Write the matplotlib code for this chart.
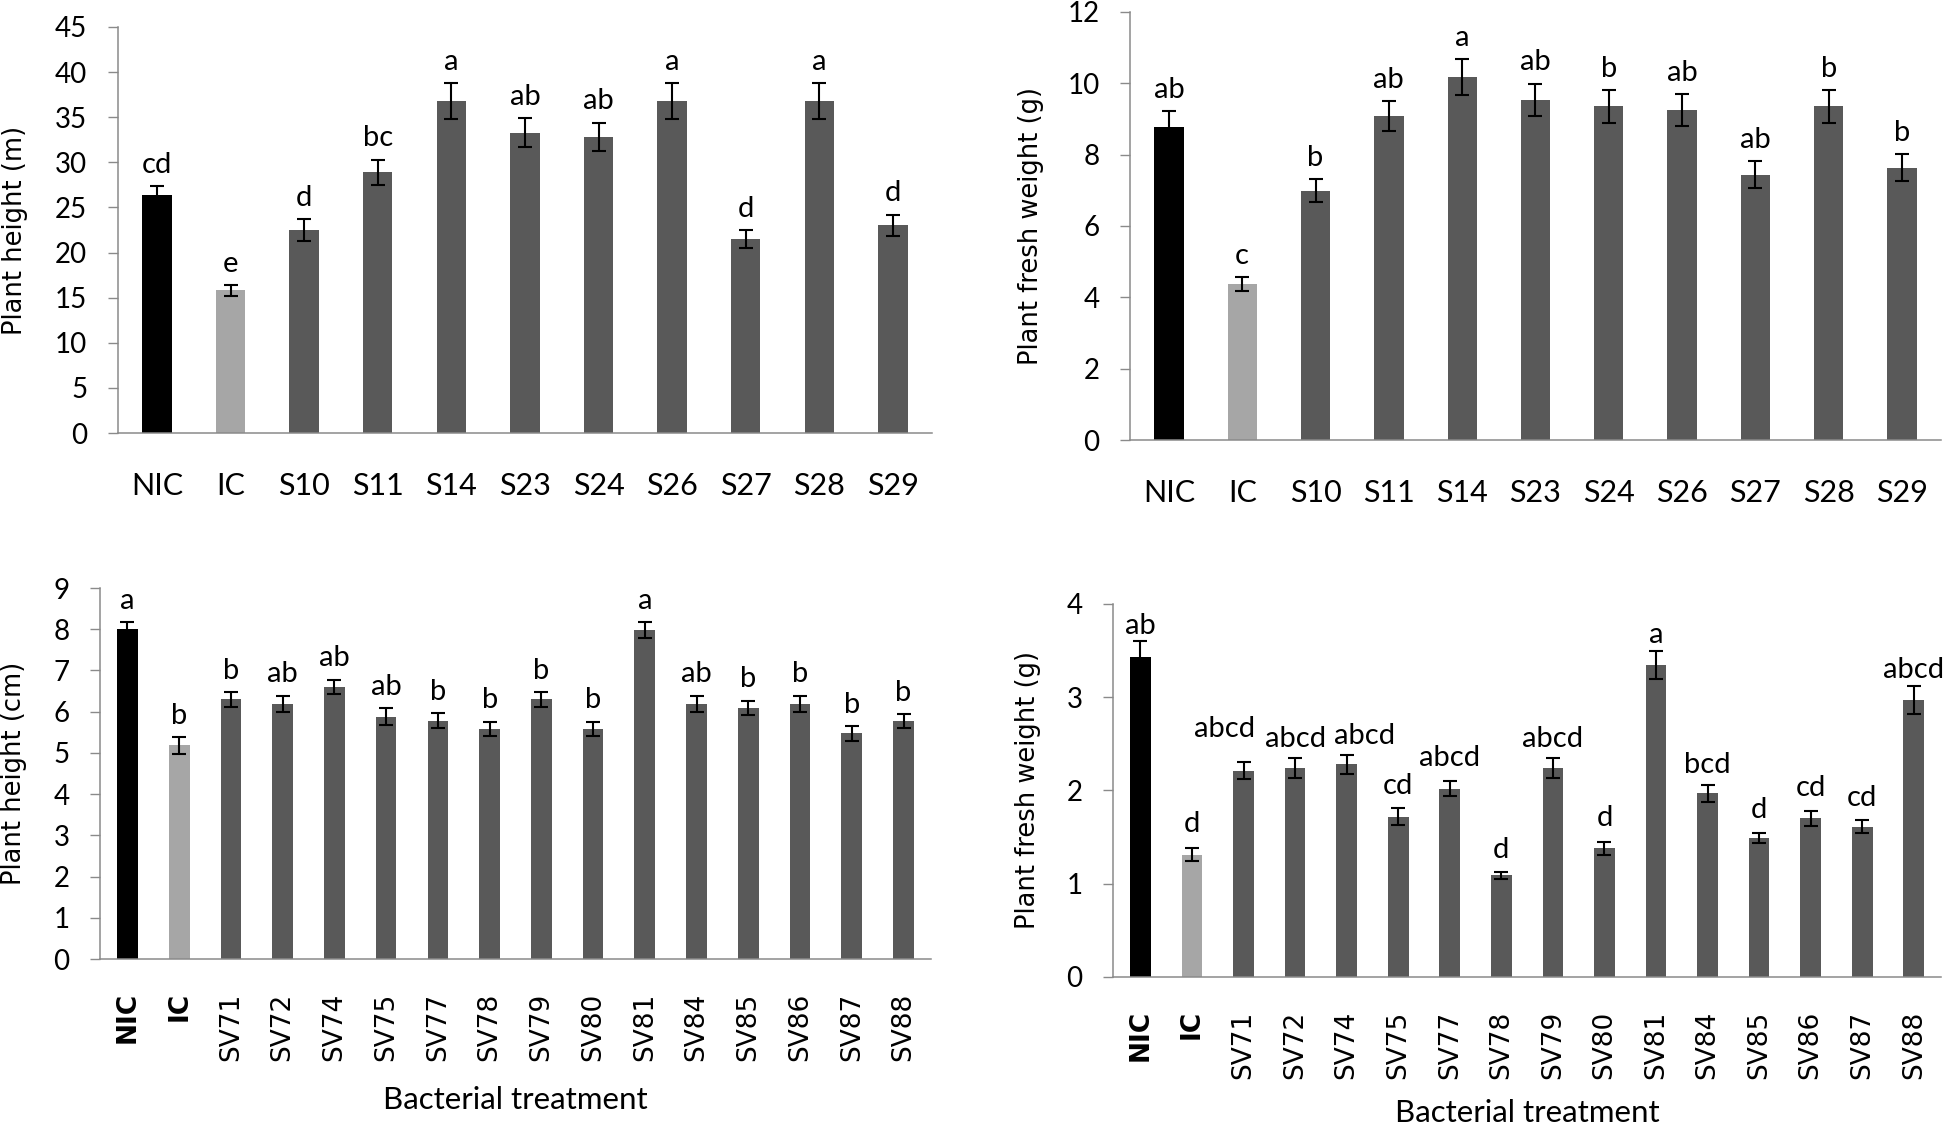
import matplotlib
matplotlib.use("Agg")
import matplotlib.pyplot as plt

plt.rcParams['font.family'] = ['Lato', 'DejaVu Sans']

# ---- data: top panels (S isolates) ----
top_labels = ['NIC', 'IC', 'S10', 'S11', 'S14', 'S23', 'S24', 'S26', 'S27', 'S28', 'S29']
top_height = [26.4, 15.8, 22.5, 28.9, 36.8, 33.3, 32.8, 36.8, 21.5, 36.8, 23.0]
top_height_err = [1.0, 0.6, 1.2, 1.4, 1.95, 1.6, 1.6, 1.95, 1.0, 1.95, 1.2]
top_height_letters = ['cd', 'e', 'd', 'bc', 'a', 'ab', 'ab', 'a', 'd', 'a', 'd']

top_weight = [8.78, 4.37, 6.99, 9.08, 10.18, 9.54, 9.35, 9.25, 7.44, 9.35, 7.63]
top_weight_err = [0.45, 0.2, 0.33, 0.43, 0.5, 0.45, 0.47, 0.45, 0.37, 0.47, 0.38]
top_weight_letters = ['ab', 'c', 'b', 'ab', 'a', 'ab', 'b', 'ab', 'ab', 'b', 'b']

# ---- data: bottom panels (SV isolates) ----
bottom_labels = ['NIC', 'IC', 'SV71', 'SV72', 'SV74', 'SV75', 'SV77', 'SV78', 'SV79',
                 'SV80', 'SV81', 'SV84', 'SV85', 'SV86', 'SV87', 'SV88']
bottom_height = [8.0, 5.18, 6.3, 6.19, 6.6, 5.88, 5.78, 5.58, 6.3, 5.58, 7.98, 6.19,
                 6.09, 6.19, 5.48, 5.78]
bottom_height_err = [0.18, 0.2, 0.18, 0.2, 0.18, 0.2, 0.18, 0.18, 0.18, 0.18, 0.2, 0.2,
                     0.18, 0.2, 0.18, 0.17]
bottom_height_letters = ['a', 'b', 'b', 'ab', 'ab', 'ab', 'b', 'b', 'b', 'b', 'a', 'ab',
                         'b', 'b', 'b', 'b']

bottom_weight = [3.43, 1.31, 2.21, 2.24, 2.28, 1.72, 2.02, 1.09, 2.24, 1.38, 3.35, 1.97,
                 1.49, 1.70, 1.61, 2.97]
bottom_weight_err = [0.17, 0.07, 0.09, 0.11, 0.1, 0.09, 0.08, 0.04, 0.11, 0.07, 0.15,
                     0.09, 0.05, 0.08, 0.07, 0.15]
bottom_weight_letters = ['ab', 'd', 'abcd', 'abcd', 'abcd', 'cd', 'abcd', 'd', 'abcd', 'd',
                         'a', 'bcd', 'd', 'cd', 'cd', 'abcd']
# hand placement of the letters in that panel (dx, dy in points)
bottom_weight_nudge = [(0, -4), (0, 2), (-14, 9), (0, -2), (13, -1.5), (0, 1), (0, 1.5),
                       (0, 0), (0, -1.5), (0, 1.5), (0, -4), (0, -1), (0, 1.5), (0, 1),
                       (0, 1), (0, -4)]

SPINE = '#8a8a8a'


def draw_panel(ax, labels, values, errors, letters, ymax, ystep, ylabel,
               rotate=False, nudge=None, ylabel_x=-0.12):
    x = list(range(len(labels)))
    colors = ['#000000', '#a6a6a6'] + ['#595959'] * (len(labels) - 2)
    ax.bar(x, values, width=0.4, color=colors, zorder=2)
    ax.errorbar(x, values, yerr=errors, fmt='none', ecolor='black',
                elinewidth=1.5, capsize=5, capthick=1.5, zorder=3)
    if nudge is None:
        nudge = [(0, 0)] * len(labels)
    for i, (v, e, t) in enumerate(zip(values, errors, letters)):
        dx, dy = nudge[i]
        ax.annotate(t, (i, v + e), xytext=(dx, 9.5 + dy),
                    textcoords='offset points', ha='center', va='baseline',
                    fontsize=21, annotation_clip=False)

    ax.set_xlim(-0.53, len(labels) - 0.47)
    ax.set_ylim(0, ymax)
    ticks = [k * ystep for k in range(int(round(ymax / ystep)) + 1)]
    ax.set_yticks(ticks)
    ax.set_yticklabels([f'{t:g}' for t in ticks], fontsize=20)
    ax.tick_params(axis='y', direction='out', length=7, width=1, color=SPINE, pad=15)

    ax.set_xticks(x)
    if rotate:
        ax.set_xticklabels(labels, rotation=90, family='DejaVu Sans', fontsize=19)
        for lab in ax.get_xticklabels()[:2]:
            lab.set_fontweight('bold')
        ax.tick_params(axis='x', length=0, pad=24)
    else:
        ax.set_xticklabels(labels, fontsize=22)
        ax.tick_params(axis='x', length=0, pad=28)

    for side in ['top', 'right']:
        ax.spines[side].set_visible(False)
    for side in ['left', 'bottom']:
        ax.spines[side].set_color(SPINE)
        ax.spines[side].set_linewidth(1.1)

    ax.set_ylabel(ylabel, family='DejaVu Sans', fontsize=18.5)
    ax.yaxis.set_label_coords(ylabel_x, 0.5)
    ax.yaxis.label.set_va('center')


fig = plt.figure(figsize=(19.46, 11.28), dpi=100)

ax1 = fig.add_axes([0.0606, 0.6161, 0.4183, 0.3600])
draw_panel(ax1, top_labels, top_height, top_height_err, top_height_letters,
           45, 5, 'Plant height (m)', ylabel_x=-0.1265)

ax2 = fig.add_axes([0.5807, 0.6099, 0.4167, 0.3795])
draw_panel(ax2, top_labels, top_weight, top_weight_err, top_weight_letters,
           12, 2, 'Plant fresh weight (g)', ylabel_x=-0.122)

ax3 = fig.add_axes([0.0514, 0.1498, 0.4270, 0.3289])
draw_panel(ax3, bottom_labels, bottom_height, bottom_height_err, bottom_height_letters,
           9, 1, 'Plant height (cm)', rotate=True, ylabel_x=-0.1035)
ax3.set_xlabel('Bacterial treatment', fontsize=22.5)
ax3.xaxis.set_label_coords(0.5, -0.38)
ax3.xaxis.label.set_va('center')

ax4 = fig.add_axes([0.5720, 0.1339, 0.4255, 0.3307])
draw_panel(ax4, bottom_labels, bottom_weight, bottom_weight_err, bottom_weight_letters,
           4, 1, 'Plant fresh weight (g)', rotate=True, nudge=bottom_weight_nudge,
           ylabel_x=-0.103)
ax4.set_xlabel('Bacterial treatment', fontsize=22.5)
ax4.xaxis.set_label_coords(0.5, -0.365)
ax4.xaxis.label.set_va('center')

fig.savefig('out.png', dpi=100)
